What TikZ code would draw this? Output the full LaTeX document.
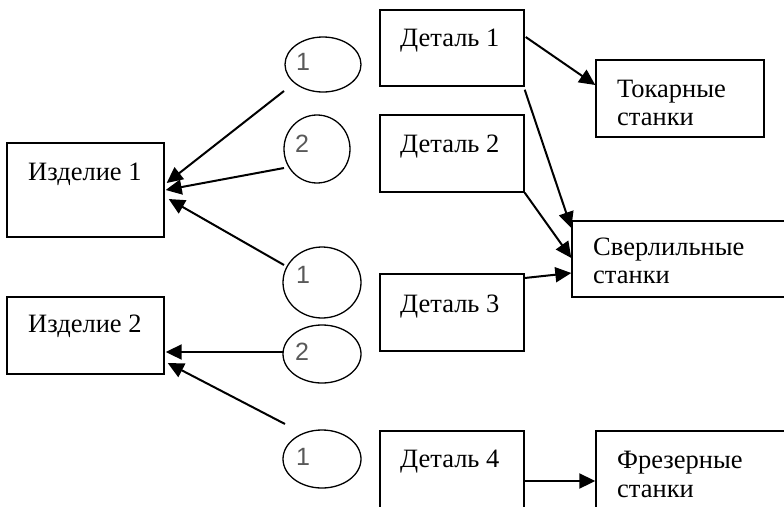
\documentclass[tikz,border=0pt]{standalone}
\usepackage{fontspec}
\setmainfont{Liberation Serif}
\newfontfamily\numfont{Liberation Sans}
\usetikzlibrary{shapes.geometric,arrows.meta,calc}
\tikzset{
  boxnode/.style={draw,line width=1.4pt,rectangle,minimum width=#1,inner sep=0pt},
  ovalnode/.style={draw,line width=1.3pt,ellipse,inner sep=0pt},
  lbl/.style={anchor=base west,inner sep=0pt,font=\fontsize{26.5}{28}\selectfont},
  num/.style={anchor=base,inner sep=0pt,text=black!65,font=\numfont\fontsize{25}{30}\selectfont},
  arr/.style={line width=2pt,-{Triangle[length=16pt,width=15pt]}}
}
\begin{document}
\begin{tikzpicture}[x=1pt,y=-1pt]
\clip (0,0) rectangle (784,506);
\fill[white] (0,0) rectangle (784,506);
% boxes
\node[boxnode=157pt,minimum height=94pt] (iz1) at (85.5,190) {};
\node[boxnode=157pt,minimum height=77pt] (iz2) at (85.5,335.5) {};
\node[boxnode=144pt,minimum height=76pt] (d1) at (452,48) {};
\node[boxnode=144pt,minimum height=77pt] (d2) at (452,153.5) {};
\node[boxnode=144pt,minimum height=77pt] (d3) at (452,312.5) {};
\node[boxnode=144pt,minimum height=77pt] (d4) at (452,469.5) {};
\node[boxnode=168pt,minimum height=77pt] (tok) at (680,98.5) {};
\node[boxnode=228pt,minimum height=76pt] (sv) at (686,259) {};
\node[boxnode=204pt,minimum height=77pt] (fr) at (698,469.5) {};
% ellipses
\node[ovalnode,minimum width=76pt,minimum height=55pt] (e1) at (323,64.5) {};
\node[ovalnode,minimum width=66pt,minimum height=68pt] (e2) at (317,149) {};
\node[ovalnode,minimum width=78pt,minimum height=71pt] (e3) at (322,282.5) {};
\node[ovalnode,minimum width=78pt,minimum height=58pt] (e4) at (322,354) {};
\node[ovalnode,minimum width=78pt,minimum height=58pt] (e5) at (322,459) {};
% digits
\node[num] (n1) at (303,70) {1};
\node[num] (n2) at (302,152) {2};
\node[num] (n3) at (303,283) {1};
\node[num] (n4) at (302,360) {2};
\node[num] (n5) at (303,465) {1};
% labels
\node[lbl] (t1) at (28,180) {Изделие 1};
\node[lbl] (t2) at (28,332) {Изделие 2};
\node[lbl] (t3) at (400,46) {Деталь 1};
\node[lbl] (t4) at (400,152) {Деталь 2};
\node[lbl] (t5) at (400,312) {Деталь 3};
\node[lbl] (t6) at (400,467) {Деталь 4};
\node[lbl] (t7) at (617,97) {Токарные};
\node[lbl] (t8) at (617,125) {станки};
\node[lbl] (t9) at (593,255) {Сверлильные};
\node[lbl] (t10) at (593,283) {станки};
\node[lbl] (t11) at (617,468) {Фрезерные};
\node[lbl] (t12) at (617,497) {станки};
% arrows to products
\draw[arr] ($(e1.center)+(-39,26.5)$) -- ($(iz1.east)+(2,-7)$);
\draw[arr] ($(e2.center)+(-33,19)$) -- ($(iz1.east)+(1,0)$);
\draw[arr] ($(e3.center)+(-38,-17.5)$) -- ($(iz1.east)+(4,9)$);
\draw[arr] ($(e4.center)+(-39,-2)$) -- ($(iz2.east)+(1,16.5)$);
\draw[arr] ($(e5.center)+(-37,-35)$) -- ($(iz2.east)+(3,27.5)$);
% arrows to machines
\draw[arr] ($(d1.east)+(1,-11)$) -- ($(tok.west)+(0,-13.5)$);
\draw[arr] ($(d1.south east)+(0,3)$) -- ($(sv.west)+(0,-31)$);
\draw[arr] (d2.south east) -- ($(sv.west)+(0,-1)$);
\draw[arr] ($(d3.east)+(0,-34.5)$) -- ($(sv.west)+(0,14)$);
\draw[arr] ($(d4.east)+(0,11.5)$) -- ($(fr.west)+(0,11.5)$);
\end{tikzpicture}
\end{document}
